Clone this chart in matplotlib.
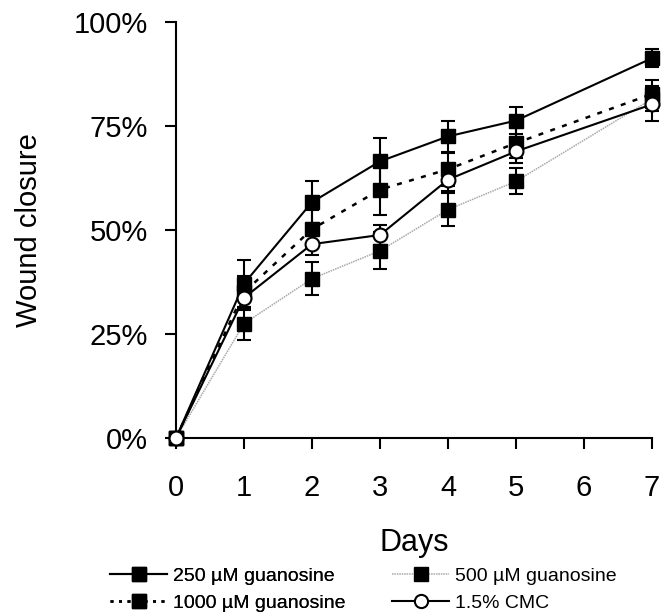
import matplotlib
matplotlib.use("Agg")
import matplotlib.pyplot as plt
from matplotlib.lines import Line2D

plt.rcParams['font.family'] = ['Liberation Sans', 'DejaVu Sans']

days = [0, 1, 2, 3, 4, 5, 7]
g250 = [0, 37.1, 56.7, 66.5, 72.5, 76.3, 91.3]
g250_err = [0, 5.6, 5.0, 5.7, 3.8, 3.2, 2.2]
g500 = [0, 27.5, 38.3, 45.0, 54.9, 61.7, 81.5]
g500_err = [0, 3.9, 4.0, 4.4, 3.9, 3.1, 3.0]
g1000 = [0, 35.0, 50.2, 59.7, 64.6, 70.9, 82.7]
g1000_err = [0, 4.0, 4.5, 6.0, 4.0, 3.5, 3.4]
cmc = [0, 33.7, 46.6, 48.8, 62.1, 68.9, 80.2]
cmc_err = [0, 3.0, 2.5, 2.5, 2.8, 2.8, 3.9]

labels = ['250 µM guanosine', '500 µM guanosine', '1000 µM guanosine', '1.5% CMC']

fig = plt.figure(figsize=(6.7, 6.14), dpi=100)
ax = fig.add_axes([176/670, 1-438/614, (652-176)/670, (438-22)/614])

ms = 10
gray_ls = (0, (1, 0.6))
dot_ls = (0, (2, 3))
ekw = dict(ecolor='black', elinewidth=1.5, capsize=5, capthick=1.5, clip_on=False)

ax.errorbar(days, g500, yerr=g500_err, color='#a8a8a8', lw=1.1, ls=gray_ls, marker='s', ms=ms,
            mfc='black', mec='black', zorder=2, **ekw)
ax.errorbar(days, g1000, yerr=g1000_err, color='black', lw=1.8, ls=dot_ls, marker='s', ms=ms,
            mfc='black', mec='black', zorder=3, **ekw)
ax.errorbar(days, g250, yerr=g250_err, color='black', lw=1.5, marker='s', ms=ms,
            mfc='black', mec='black', zorder=4, **ekw)
ax.errorbar(days, cmc, yerr=cmc_err, color='black', lw=1.5, marker='o', ms=ms,
            mfc='white', mec='black', mew=1.5, zorder=5, **ekw)

ax.set_xlim(0, 7)
ax.set_ylim(0, 100)
ax.set_xticks(range(0, 8))
ax.set_yticks([0, 25, 50, 75, 100])
ax.set_yticklabels(['0%', '25%', '50%', '75%', '100%'])
for s in ['top', 'right']:
    ax.spines[s].set_visible(False)
for s in ['left', 'bottom']:
    ax.spines[s].set_linewidth(1.5)
ax.tick_params(axis='both', labelsize=21, width=1.5, length=8, direction='out')
ax.tick_params(axis='x', pad=18)
ax.tick_params(axis='y', pad=12)
ax.set_xlabel('Days', fontsize=22, labelpad=19)
ax.set_ylabel('Wound closure', fontsize=21, labelpad=22)

lms = 9.5
h250 = Line2D([], [], color='black', lw=1.5, marker='s', ms=lms, mfc='black', mec='black')
h1000 = Line2D([], [], color='black', lw=1.8, ls=(0, (1.2, 2.2)), marker='s', ms=lms, mfc='black', mec='black')
h500 = Line2D([], [], color='#a8a8a8', lw=1.1, ls=gray_ls, marker='s', ms=lms, mfc='black', mec='black')
hcmc = Line2D([], [], color='black', lw=1.5, marker='o', ms=lms, mfc='white', mec='black', mew=1.5)

lkw = dict(loc='upper left', frameon=False, fontsize=14, handlelength=2.95, handletextpad=0.28,
           labelspacing=0.5, borderpad=0, borderaxespad=0)
leg1 = fig.legend([h250, h1000], [labels[0], labels[2]], bbox_to_anchor=(110/670, 1-567/614), **lkw)
fig.add_artist(leg1)
fig.legend([h500, hcmc], [labels[1], labels[3]], bbox_to_anchor=(392/670, 1-567/614), **lkw)

fig.savefig('out.png', dpi=100)
